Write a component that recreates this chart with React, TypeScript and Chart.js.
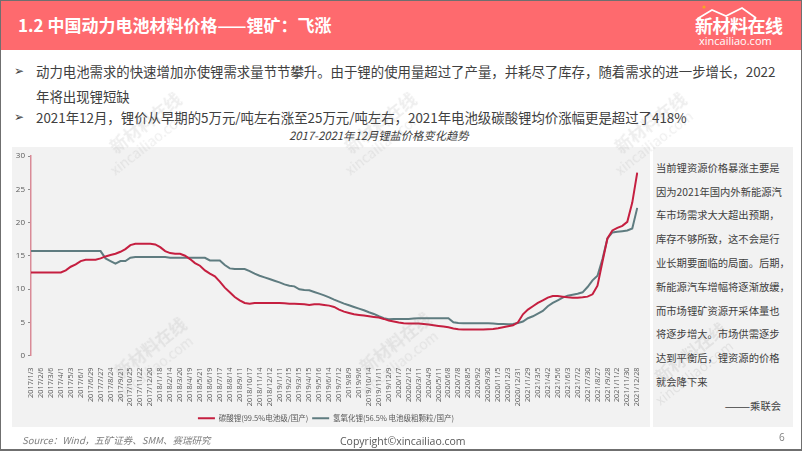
import React, { useEffect, useRef } from 'react';
import { Chart, registerables } from 'chart.js';

Chart.register(...registerables);

// ---- data ----
const tickLabels = [
  '2017/1/3', '2017/2/6', '2017/3/6', '2017/4/1', '2017/5/3', '2017/6/1', '2017/6/29', '2017/7/27',
  '2017/8/24', '2017/9/21', '2017/10/25', '2017/11/22', '2017/12/20', '2018/1/18', '2018/2/14',
  '2018/3/20', '2018/4/19', '2018/5/21', '2018/6/19', '2018/7/17', '2018/8/14', '2018/9/11',
  '2018/10/17', '2018/11/14', '2018/12/12', '2019/1/11', '2019/2/15', '2019/3/15', '2019/4/15',
  '2019/5/16', '2019/6/14', '2019/7/12', '2019/8/9', '2019/9/6', '2019/10/14', '2019/11/11',
  '2019/12/9', '2020/1/7', '2020/2/12', '2020/3/11', '2020/4/9', '2020/5/11', '2020/6/8',
  '2020/7/8', '2020/8/5', '2020/9/2', '2020/9/30', '2020/11/5', '2020/12/3', '2020/12/31',
  '2021/1/29', '2021/3/5', '2021/4/2', '2021/5/6', '2021/6/3', '2021/7/2', '2021/7/30',
  '2021/8/27', '2021/9/28', '2021/11/2', '2021/11/30', '2021/12/28',
];

// two readings per tick interval (at each tick and half-way to the next)
const lithiumCarbonate = [
  12.5, 12.5, 12.5, 12.5, 12.5, 12.5, 12.5, 12.8, 13.35, 13.7,
  14.2, 14.4, 14.4, 14.4, 14.6, 14.9, 15.1, 15.3, 15.6, 16.0,
  16.6, 16.8, 16.8, 16.8, 16.8, 16.7, 16.3, 15.7, 15.4, 15.3,
  15.3, 15.0, 14.5, 13.9, 13.5, 12.8, 12.3, 11.9, 11.1, 10.2,
  9.5, 8.8, 8.3, 7.9, 7.8, 7.9, 7.9, 7.9, 7.9, 7.9,
  7.9, 7.85, 7.8, 7.8, 7.75, 7.7, 7.6, 7.7, 7.7, 7.6,
  7.5, 7.3, 6.9, 6.6, 6.4, 6.2, 6.1, 6.0, 5.9, 5.8,
  5.7, 5.5, 5.25, 5.1, 4.95, 4.85, 4.8, 4.8, 4.8, 4.75,
  4.65, 4.55, 4.45, 4.35, 4.25, 4.05, 3.95, 3.9, 3.9, 3.9,
  3.9, 3.9, 3.95, 4.0, 4.1, 4.25, 4.4, 4.55, 5.0, 6.2,
  6.9, 7.4, 7.9, 8.3, 8.7, 8.95, 8.95, 8.85, 8.75, 8.7,
  8.7, 8.75, 8.85, 9.2, 10.5, 14.1, 17.6, 18.8, 19.2, 19.5,
  20.1, 23.0, 27.5,
];

const lithiumHydroxide = [
  15.7, 15.7, 15.7, 15.7, 15.7, 15.7, 15.7, 15.7, 15.7, 15.7,
  15.7, 15.7, 15.7, 15.7, 15.7, 14.6, 14.2, 13.8, 14.2, 14.2,
  14.7, 14.8, 14.8, 14.8, 14.8, 14.8, 14.8, 14.8, 14.7, 14.7,
  14.7, 14.7, 14.7, 14.7, 14.7, 14.7, 14.3, 14.3, 14.3, 13.6,
  13.1, 13.0, 13.0, 13.0, 12.7, 12.3, 12.0, 11.75, 11.5, 11.25,
  11.0, 10.7, 10.5, 10.4, 9.95, 9.85, 9.8, 9.55, 9.3, 9.05,
  8.75, 8.4, 8.1, 7.8, 7.55, 7.3, 7.05, 6.8, 6.5, 6.25,
  5.9, 5.6, 5.45, 5.5, 5.5, 5.5, 5.5, 5.55, 5.6, 5.6,
  5.6, 5.6, 5.6, 5.6, 5.6, 5.0, 4.9, 4.85, 4.85, 4.85,
  4.85, 4.85, 4.85, 4.8, 4.75, 4.75, 4.7, 4.75, 4.9, 5.1,
  5.6, 5.9, 6.3, 6.7, 7.4, 7.9, 8.3, 8.7, 9.0, 9.15,
  9.3, 9.5, 10.3, 11.3, 12.0, 14.5, 17.6, 18.5, 18.6, 18.7,
  18.8, 19.1, 22.2,
];

const seriesNames = ['碳酸锂(99.5%电池级/国产)', '氢氧化锂(56.5% 电池级粗颗粒/国产)'];
const yMax = 30;
const yStep = 5;

const noteLines = [
  '当前锂资源价格暴涨主要是',
  '因为2021年国内外新能源汽',
  '车市场需求大大超出预期，',
  '库存不够所致，这不会是行',
  '业长期要面临的局面。后期，',
  '新能源汽车增幅将逐渐放缓，',
  '而市场锂矿资源开采体量也',
  '将逐步增大。市场供需逐步',
  '达到平衡后，锂资源的价格',
  '就会降下来',
];

const RED = '#c51f40';
const GREY = '#5f7c80';
const CJK = '"Noto Sans CJK SC", "Noto Sans", sans-serif';
const LATIN = '"Open Sans", "Noto Sans CJK SC", sans-serif';

const categories: string[] = [];
tickLabels.forEach((l, i) => {
  categories.push(l);
  if (i < tickLabels.length - 1) categories.push('');
});

function LithiumChart() {
  const ref = useRef<HTMLCanvasElement | null>(null);
  useEffect(() => {
    if (!ref.current) return;
    const chart = new Chart(ref.current, {
      type: 'line',
      data: {
        labels: categories,
        datasets: [
          {
            label: seriesNames[0],
            data: lithiumCarbonate,
            borderColor: RED,
            backgroundColor: RED,
            borderWidth: 2,
            pointRadius: 0,
            tension: 0,
          },
          {
            label: seriesNames[1],
            data: lithiumHydroxide,
            borderColor: GREY,
            backgroundColor: GREY,
            borderWidth: 2,
            pointRadius: 0,
            tension: 0,
          },
        ],
      },
      options: {
        responsive: false,
        animation: false,
        layout: { padding: { top: 9, right: 10, bottom: 5, left: 0 } },
        plugins: {
          tooltip: { enabled: false },
          legend: {
            position: 'bottom',
            labels: {
              boxWidth: 17,
              boxHeight: 2,
              padding: 4,
              color: '#595959',
              font: { size: 7.5, family: CJK },
              generateLabels: (c: any) =>
                Chart.defaults.plugins.legend.labels
                  .generateLabels(c)
                  .map((it: any) => ({ ...it, lineWidth: 0, fillStyle: it.strokeStyle })),
            },
          },
        },
        scales: {
          x: {
            grid: { display: false },
            border: { display: false },
            ticks: {
              autoSkip: false,
              maxRotation: 90,
              minRotation: 90,
              padding: 4,
              color: '#595959',
              font: { size: 7.3, family: LATIN },
              callback: (_v: any, i: number) => (i % 2 === 0 ? tickLabels[i / 2] : ''),
            },
            afterFit: (s: any) => {
              s.height = 55;
            },
          },
          y: {
            min: 0,
            max: yMax,
            ticks: {
              stepSize: yStep,
              padding: 3,
              color: '#595959',
              font: { size: 8, family: LATIN },
            },
            grid: { drawOnChartArea: false, drawTicks: true, tickLength: 3, color: '#8c8c8c' },
            border: { color: '#d98b97', width: 1.5 },
            afterFit: (s: any) => {
              s.width = 19;
            },
          },
        },
      },
    } as any);
    return () => chart.destroy();
  }, []);
  return <canvas ref={ref} width={638} height={290} style={{ position: 'absolute', left: 12, top: 147 }} />;
}

const abs = (o: React.CSSProperties): React.CSSProperties => ({ position: 'absolute', whiteSpace: 'nowrap', ...o });

function Watermark({ x, y }: { x: number; y: number }) {
  return (
    <div style={abs({ left: x, top: y, transform: 'rotate(-38deg)', transformOrigin: 'left top', color: 'rgba(120,120,120,0.13)', fontFamily: CJK, lineHeight: '18px' })}>
      <div style={{ fontSize: 17, fontWeight: 700, paddingLeft: 14 }}>新材料在线</div>
      <div style={{ fontSize: 14 }}>xincailiao.com</div>
    </div>
  );
}

export default function App() {
  return (
    <div style={{ position: 'fixed', left: 0, top: 0, width: 802, height: 451, background: '#fff', overflow: 'hidden', fontFamily: CJK }}>
      {/* header */}
      <div style={abs({ left: 0, top: 0, width: 802, height: 50, background: '#fe6a6e' })} />
      <div style={abs({ left: 18, top: 13, fontSize: 17, fontWeight: 700, color: '#fff', lineHeight: '24px' })}>
        1.2 中国动力电池材料价格——锂矿：飞涨
      </div>
      <svg style={abs({ left: 690, top: 2, width: 100, height: 20 })} viewBox="0 0 100 20">
        <polyline points="7,17 22,8 36,14 52,6 66,16" fill="none" stroke="#fff" strokeWidth="1.6" />
        <circle cx="14" cy="5" r="1.6" fill="#f5a623" />
      </svg>
      <div style={abs({ left: 695, top: 14, fontSize: 18, fontWeight: 700, color: '#fff', lineHeight: '22px', letterSpacing: -0.5 })}>
        新材料在线
      </div>
      <div style={abs({ left: 699, top: 34, fontSize: 11, color: '#fff', lineHeight: '14px', fontFamily: LATIN })}>
        xincailiao.com
      </div>

      {/* bullets */}
      <div style={abs({ left: 14, top: 61, fontSize: 12, color: '#404040', lineHeight: '20px', fontFamily: '"DejaVu Sans", sans-serif' })}>➢</div>
      <div style={abs({ left: 36, top: 61, fontSize: 13.4, color: '#404040', lineHeight: '20px' })}>
        动力电池需求的快速增加亦使锂需求量节节攀升。由于锂的使用量超过了产量，并耗尽了库存，随着需求的进一步增长，2022
      </div>
      <div style={abs({ left: 36, top: 86, fontSize: 13.4, color: '#404040', lineHeight: '20px' })}>年将出现锂短缺</div>
      <div style={abs({ left: 14, top: 107, fontSize: 12, color: '#404040', lineHeight: '20px', fontFamily: '"DejaVu Sans", sans-serif' })}>➢</div>
      <div style={abs({ left: 36, top: 107, fontSize: 13.4, color: '#404040', lineHeight: '20px' })}>
        2021年12月，锂价从早期的5万元/吨左右涨至25万元/吨左右，2021年电池级碳酸锂均价涨幅更是超过了418%
      </div>
      <div style={abs({ left: 289, top: 127, fontSize: 11.3, color: '#404040', lineHeight: '16px', fontStyle: 'italic' })}>
        2017-2021年12月锂盐价格变化趋势
      </div>

      {/* chart panel */}
      <div style={abs({ left: 12, top: 147, width: 638, height: 280, background: '#f2f2f2' })} />
      <LithiumChart />

      {/* note panel */}
      <div style={abs({ left: 653, top: 147, width: 140, height: 280, background: '#f2f2f2' })} />
      {noteLines.map((t, k) => (
        <div key={k} style={abs({ left: 656, top: 167.7 + 23.8 * k - 8, fontSize: 10.3, color: '#404040', lineHeight: '16px' })}>
          {t}
        </div>
      ))}
      <div style={abs({ left: 700, width: 81, top: 167.7 + 23.8 * 10 - 8, fontSize: 10.3, color: '#404040', lineHeight: '16px', textAlign: 'right' })}>
        ———乘联会
      </div>

      {/* footer */}
      <div style={abs({ left: 22, top: 433, fontSize: 9.5, color: '#7f7f7f', lineHeight: '14px', fontStyle: 'italic' })}>
        Source：Wind，五矿证券、SMM、赛瑞研究
      </div>
      <div style={abs({ left: 340, top: 433, fontSize: 10.5, color: '#595959', lineHeight: '16px', fontFamily: LATIN })}>
        Copyright©xincailiao.com
      </div>
      <div style={abs({ left: 779, top: 430, fontSize: 10, color: '#7f7f7f', lineHeight: '14px', fontFamily: LATIN })}>6</div>

      {/* watermarks */}
      <Watermark x={95} y={150} />
      <Watermark x={330} y={150} />
      <Watermark x={600} y={150} />
      <Watermark x={100} y={375} />
      <Watermark x={345} y={370} />
      <Watermark x={640} y={380} />

      {/* frame */}
      <div style={abs({ left: 0, top: 0, width: 802, height: 451, boxSizing: 'border-box', border: '1px solid #6f6f6f', borderBottomWidth: 2 })} />
    </div>
  );
}
